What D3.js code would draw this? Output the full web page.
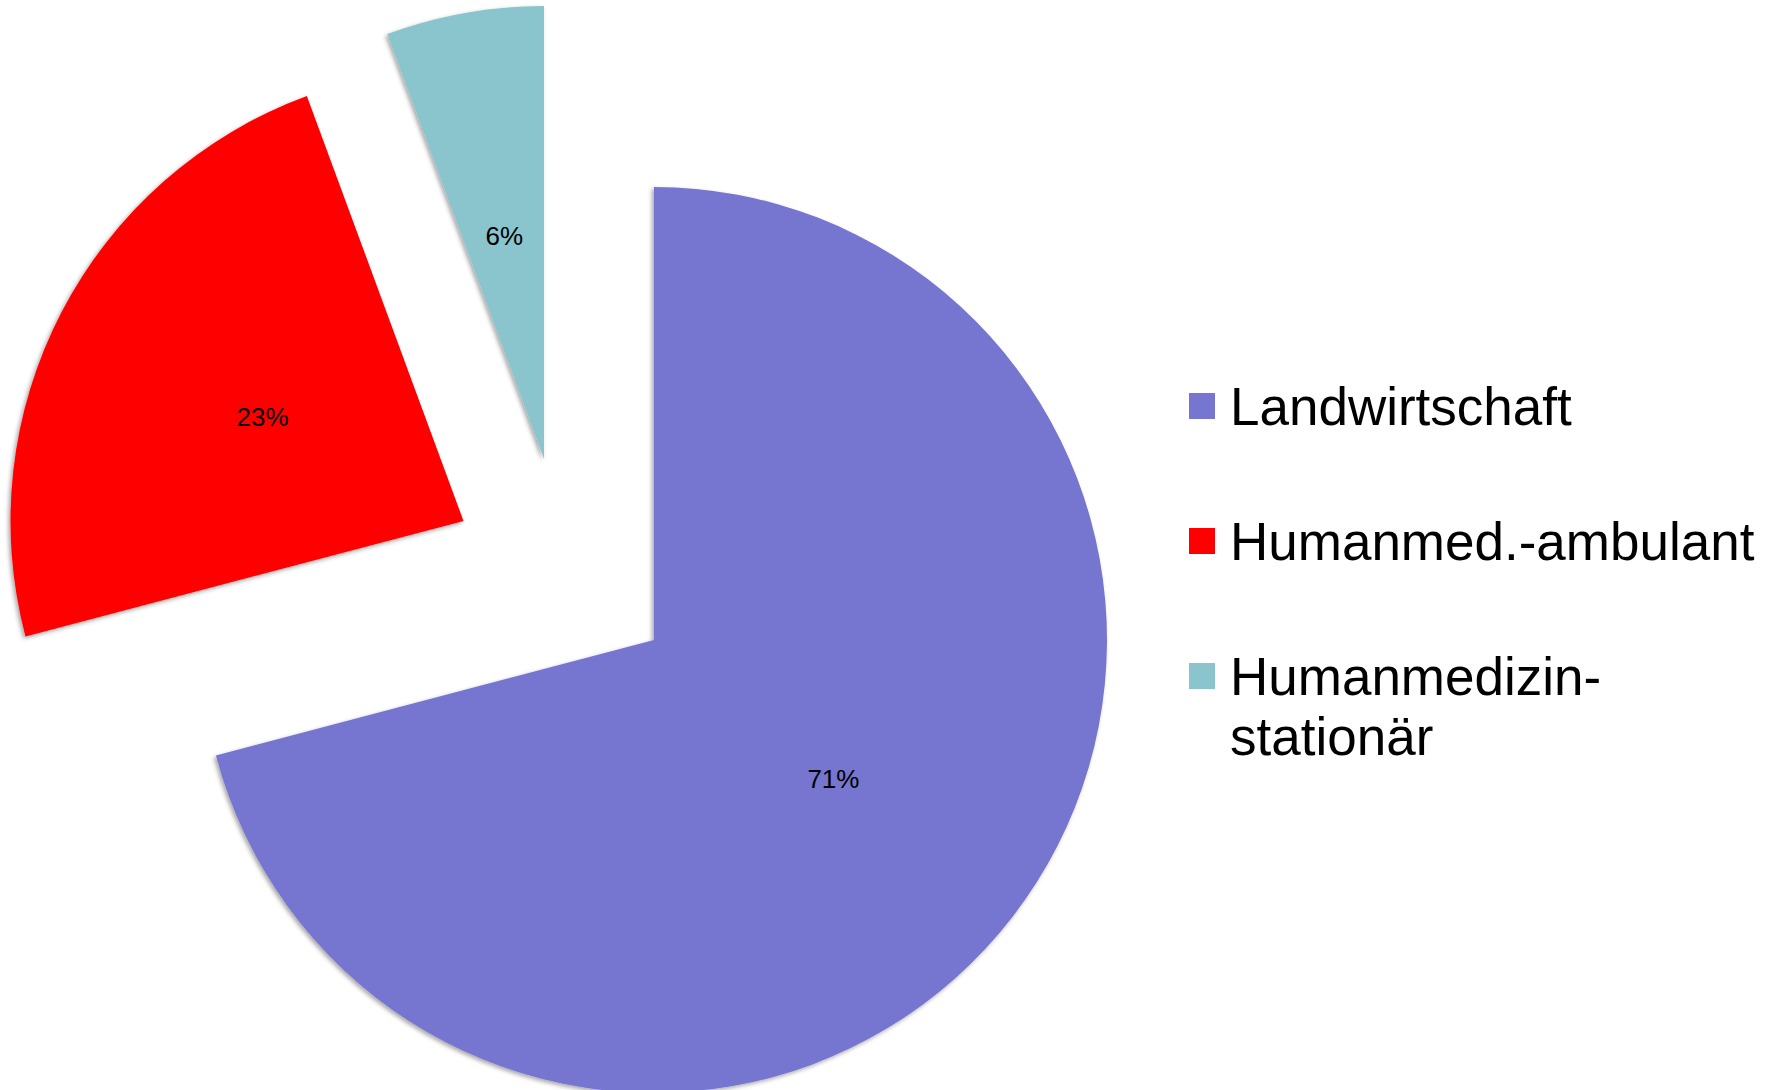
<!DOCTYPE html>
<html>
<head>
<meta charset="utf-8">
<script src="https://cdn.jsdelivr.net/npm/d3@7"></script>
<style>
	body {margin: 0; background: #fff;}
	text {font-family: "Liberation Sans", Arial, sans-serif;}
</style>
</head>
<body>
<svg id="chart" width="1777" height="1090"></svg>
<script>
/*** Data ***/
var categories = ["Landwirtschaft", "Humanmed.-ambulant", "Humanmedizin-\nstationär"]
var shares     = [70.9, 23.48, 5.62]
var colors     = ["#7675CF", "#FE0000", "#8AC5CD"]

/*** Layout ***/
var cx = 654, cy = 640, r = 453
// explode offsets of each slice, in px
var explode = [[0, 0], [-190.5, -119], [-110, -181]]

var m = d3.select("#chart")

var defs = m.append("defs")
defs.append("filter")
	.attr("id", "shadow")
	.attr("x", "-10%").attr("y", "-10%")
	.attr("width", "120%").attr("height", "120%")
	.append("feDropShadow")
	.attr("dx", -2).attr("dy", 2)
	.attr("stdDeviation", 2)
	.attr("flood-color", "#000")
	.attr("flood-opacity", 0.35)

var total = d3.sum(shares)
var pie = d3.pie().sort(null).value((d) => {return d})
var arc = d3.arc().innerRadius(0).outerRadius(r)
var pct = d3.format(".0%")

var s = m.append("g")
	.attr("class", "slices")
	.selectAll("g")
	.data(pie(shares))
	.enter()
	.append("g")
	.attr("transform", (d, i) => {return "translate(" + (cx + explode[i][0]) + "," + (cy + explode[i][1]) + ")"})

s.append("path")
 .attr("d", arc)
 .attr("fill", (d, i) => {return colors[i]})
 .attr("filter", "url(#shadow)")

s.append("text")
 .attr("transform", (d) => {return "translate(" + arc.centroid(d) + ")"})
 .attr("text-anchor", "middle")
 .attr("dy", "0.36em")
 .attr("font-size", 26)
 .attr("fill", "#000")
 .text((d) => {return pct(d.value / total)})

/*** Legend ***/
var lg = m.append("g")
	.attr("class", "legend")
	.selectAll("g")
	.data(categories)
	.enter()
	.append("g")
	.attr("transform", (d, i) => {return "translate(1189," + (425 + i * 135) + ")"})

lg.append("rect")
  .attr("x", 0)
  .attr("y", -32)
  .attr("width", 26)
  .attr("height", 26)
  .attr("fill", (d, i) => {return colors[i]})

lg.append("text")
  .attr("x", 41)
  .attr("font-size", 53)
  .attr("fill", "#000")
  .each(function (d) {
	var t = d3.select(this)
	d.split("\n").forEach((line, j) => {
		t.append("tspan")
		 .attr("x", 41)
		 .attr("dy", j == 0 ? 0 : 60)
		 .text(line)
	})
  })
</script>
</body>
</html>
